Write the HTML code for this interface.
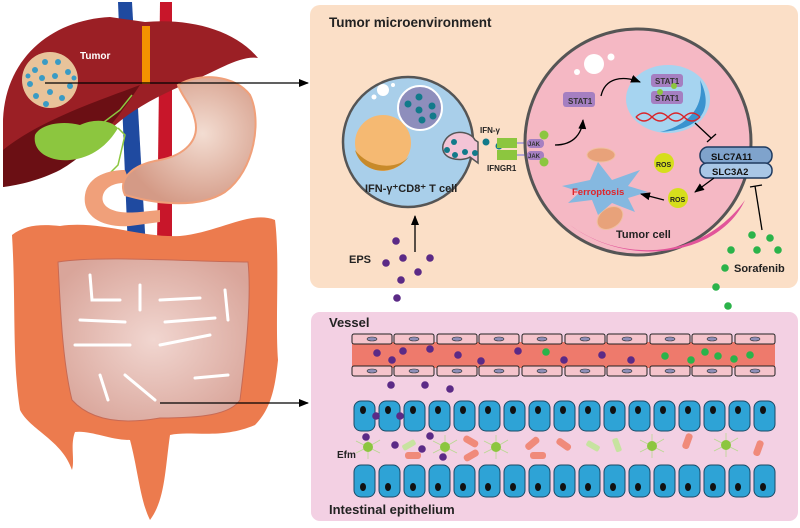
<!DOCTYPE html>
<html><head><meta charset="utf-8"><style>
html,body{margin:0;padding:0;background:#fff}
svg{display:block}
text{font-family:"Liberation Sans",Arial,sans-serif;font-weight:bold}
</style></head><body>
<svg width="800" height="528" viewBox="0 0 800 528" xmlns="http://www.w3.org/2000/svg">
<defs>
<marker id="ar" markerWidth="10" markerHeight="8" refX="9" refY="4" orient="auto" markerUnits="userSpaceOnUse"><path d="M0,0 L10,4 L0,8 Z" fill="#000"/></marker>
<radialGradient id="st" cx="0.6" cy="0.45" r="0.6"><stop offset="0" stop-color="#f3ddd2"/><stop offset="1" stop-color="#d49a86"/></radialGradient>
<radialGradient id="si" cx="0.5" cy="0.5" r="0.6"><stop offset="0" stop-color="#f1d6d0"/><stop offset="1" stop-color="#d9a59a"/></radialGradient>
</defs>
<!-- veins -->
<path d="M118,2 L132,2 L146,250 L128,250 Z" fill="#1f4aa0"/>
<path d="M160,2 L172,2 L172,245 L157,245 Z" fill="#c8162a"/>
<!-- liver -->
<path d="M3,125 C3,60 50,20 110,17 L145,22 C190,18 235,30 258,58 C240,55 215,72 190,82 C160,95 130,110 110,130 C80,160 40,180 3,187 Z" fill="#9b1f25"/>
<path d="M3,150 C40,120 100,100 140,85 C120,115 95,150 60,170 C40,180 20,185 3,187 Z" fill="#6b0f14"/>
<rect x="142" y="26" width="8" height="58" fill="#f39200"/>
<path d="M35,135 C40,125 60,120 80,125 C95,118 110,120 118,128 C108,145 92,158 70,160 C50,162 32,152 35,135 Z" fill="#8cc63f"/>
<path d="M100,125 L120,110 L132,95 M118,128 L125,135 L118,165 L108,175" stroke="#8cc63f" stroke-width="1.5" fill="none"/>
<circle cx="50" cy="80" r="28" fill="#e8c39a"/>
<g fill="#3a9bc4">
<circle cx="35" cy="70" r="3"/><circle cx="45" cy="62" r="3"/><circle cx="58" cy="62" r="3"/><circle cx="68" cy="72" r="3"/><circle cx="30" cy="84" r="3"/><circle cx="42" cy="78" r="3"/><circle cx="55" cy="76" r="3"/><circle cx="70" cy="86" r="3"/><circle cx="36" cy="96" r="3"/><circle cx="50" cy="92" r="3"/><circle cx="62" cy="98" r="3"/><circle cx="46" cy="104" r="3"/><circle cx="74" cy="78" r="2.5"/><circle cx="28" cy="76" r="2.5"/></g>
<text x="80" y="59" font-size="10" fill="#fff">Tumor</text>
<!-- stomach & duodenum -->
<path d="M125,170 C110,170 88,175 85,195 C82,215 100,228 130,226 L160,222 L160,210 L140,212 C110,215 100,205 103,195 C106,185 118,182 130,183 Z" fill="#f0a07a"/>
<path d="M178,85 C200,72 235,75 250,95 C262,120 255,170 225,192 C200,208 160,205 125,195 C118,180 130,165 160,160 C185,155 200,140 195,120 C192,105 182,97 178,85 Z" fill="url(#st)" stroke="#f0a07a" stroke-width="2"/>
<!-- colon -->
<path d="M12,235 C25,225 40,224 60,226 C100,220 140,238 180,236 C220,232 250,210 275,220 C280,260 275,320 278,360 C275,390 270,410 255,425 C220,440 190,430 170,435 C165,470 165,500 150,520 C140,500 138,470 130,440 C110,440 90,430 75,432 C70,445 75,460 72,470 C62,440 30,430 20,410 C12,360 16,300 12,235 Z" fill="#ec7b4e"/>
<!-- small intestine -->
<path d="M58,262 C100,255 200,262 248,262 C252,300 245,360 240,400 C230,415 200,418 160,418 C120,425 90,420 72,400 C62,360 60,300 58,262 Z" fill="url(#si)" stroke="#c76a55" stroke-width="1"/>
<g stroke="#fff" stroke-width="3" fill="none" stroke-linecap="round">
<path d="M90,275 L92,300 L120,300"/><path d="M160,300 L200,298"/><path d="M75,345 L130,345"/><path d="M160,345 L210,335"/><path d="M100,375 L108,400"/><path d="M125,375 L155,400"/><path d="M195,378 L228,375"/><path d="M140,285 L140,310"/><path d="M225,290 L228,320"/><path d="M165,322 L215,318"/><path d="M80,320 L125,322"/></g>
<!-- arrows -->
<line x1="45" y1="83" x2="308" y2="83" stroke="#000" stroke-width="1.3" marker-end="url(#ar)"/>
<line x1="160" y1="403" x2="308" y2="403" stroke="#000" stroke-width="1.3" marker-end="url(#ar)"/>

<!-- top panel -->
<rect x="310" y="5" width="488" height="283" rx="10" fill="#fbdfc7"/>
<text x="329" y="27" font-size="13.5" fill="#222">Tumor microenvironment</text>
<circle cx="408" cy="142" r="65" fill="#a9cfea" stroke="#555" stroke-width="2.5"/>
<circle cx="383" cy="143" r="28" fill="#f5b972"/>
<path d="M355,150 C362,175 395,178 410,155 C400,170 370,170 355,150 Z" fill="#c88a2a"/>
<circle cx="420" cy="108" r="22" fill="#8e8ebc" stroke="#fff" stroke-width="2"/>
<g fill="#127a8a"><circle cx="408" cy="104" r="3.5"/><circle cx="419" cy="97" r="3.5"/><circle cx="419" cy="110" r="3.5"/><circle cx="432" cy="106" r="3.5"/><circle cx="422" cy="120" r="3.5"/><circle cx="433" cy="116" r="3.5"/></g>
<circle cx="383" cy="90" r="6" fill="#fff"/><circle cx="374" cy="97" r="2.5" fill="#fff"/><circle cx="393" cy="85" r="2" fill="#fff"/>
<path d="M475,140 C470,130 448,128 443,145 C440,160 462,162 470,157 L478,163 L478,142 Z" fill="#f3c4d6" stroke="#555" stroke-width="1.5"/>
<g fill="#127a8a"><circle cx="454" cy="142" r="3"/><circle cx="447" cy="150" r="3"/><circle cx="455" cy="155" r="3"/><circle cx="465" cy="152" r="3"/><circle cx="475" cy="153" r="3"/><circle cx="486" cy="142" r="3.5"/><circle cx="499" cy="146" r="3.5"/></g>
<text x="365" y="192" font-size="11" fill="#222">IFN-γ⁺CD8⁺ T cell</text>
<text x="480" y="133" font-size="8" fill="#222">IFN-γ</text>
<text x="487" y="171" font-size="8" fill="#222">IFNGR1</text>
<rect x="497" y="138" width="20" height="10" fill="#8cc63f"/><rect x="497" y="150" width="20" height="10" fill="#8cc63f"/>
<line x1="517" y1="143" x2="528" y2="143" stroke="#b7a7d4" stroke-width="2"/><line x1="517" y1="155" x2="528" y2="155" stroke="#b7a7d4" stroke-width="2"/>
<circle cx="638" cy="142" r="113" fill="#f5b8c4" stroke="#555" stroke-width="3"/>
<path d="M570,225 C620,262 700,262 745,200 C720,255 630,270 570,225 Z" fill="#e2559a"/>
<ellipse cx="668" cy="99" rx="42" ry="34" fill="#a6d4f0"/>
<path d="M700,80 C715,110 700,130 660,132 C690,125 705,105 700,80 Z" fill="#3a93cf"/>
<circle cx="594" cy="64" r="10" fill="#fff"/><circle cx="611" cy="57" r="3.5" fill="#fff"/><circle cx="577" cy="72" r="3" fill="#fff"/>
<rect x="563" y="92" width="32" height="15" rx="3" fill="#a57fc1"/><text x="568" y="104" font-size="8" fill="#333">STAT1</text>
<rect x="651" y="74" width="32" height="13" rx="3" fill="#a57fc1"/><text x="655" y="84" font-size="8" fill="#333">STAT1</text>
<rect x="651" y="91" width="32" height="13" rx="3" fill="#a57fc1"/><text x="655" y="101" font-size="8" fill="#333">STAT1</text>
<circle cx="674" cy="86" r="3" fill="#8cc63f"/><circle cx="660" cy="92" r="3" fill="#8cc63f"/>
<path d="M636,117 q8,-8 16,0 t16,0 t16,0 t16,0" stroke="#d9252a" stroke-width="1.5" fill="none"/>
<path d="M636,117 q8,8 16,0 t16,0 t16,0 t16,0" stroke="#d9252a" stroke-width="1.5" fill="none"/>
<rect x="527" y="139" width="17" height="9" rx="4" fill="#a57fc1"/><text x="528" y="146" font-size="6" fill="#333">JAK</text>
<rect x="527" y="151" width="17" height="9" rx="4" fill="#a57fc1"/><text x="528" y="158" font-size="6" fill="#333">JAK</text>
<circle cx="544" cy="135" r="4.5" fill="#8cc63f"/><circle cx="544" cy="162" r="4.5" fill="#8cc63f"/>
<path d="M555,145 C575,145 582,132 583,120" stroke="#000" stroke-width="1.3" fill="none" marker-end="url(#ar)"/>
<path d="M601,96 C605,78 622,75 640,82" stroke="#000" stroke-width="1.3" fill="none" marker-end="url(#ar)"/>
<line x1="695" y1="123" x2="711" y2="138" stroke="#000" stroke-width="1.3"/><line x1="707" y1="142" x2="716" y2="134" stroke="#000" stroke-width="1.3"/>
<rect x="700" y="147" width="72" height="17" rx="8" fill="#7fa3cc" stroke="#1f3a5f" stroke-width="1.5"/>
<rect x="700" y="163" width="72" height="15" rx="7" fill="#a9c7e6" stroke="#1f3a5f" stroke-width="1.5"/>
<text x="711" y="160" font-size="9.5" fill="#111">SLC7A11</text>
<text x="712" y="175" font-size="9.5" fill="#111">SLC3A2</text>
<ellipse cx="601" cy="155" rx="14" ry="7" fill="#e8a27a" stroke="#f0c0a0"/>
<ellipse cx="610" cy="218" rx="14" ry="10" fill="#e8a27a" stroke="#f0c0a0" transform="rotate(-35 610 218)"/>
<path d="M562,186 L590,180 L598,162 L612,180 L640,170 L628,186 L648,192 L628,198 L635,212 L612,203 L598,215 L592,200 L568,203 L580,192 Z" fill="#85b8e0"/>
<text x="572" y="195" font-size="9.5" fill="#e0252a">Ferroptosis</text>
<circle cx="664" cy="163" r="10" fill="#d6de1c"/><text x="656" y="167" font-size="7" fill="#222">ROS</text>
<circle cx="678" cy="198" r="10" fill="#d6de1c"/><text x="670" y="202" font-size="7" fill="#222">ROS</text>
<line x1="714" y1="178" x2="695" y2="192" stroke="#000" stroke-width="1.3" marker-end="url(#ar)"/>
<line x1="664" y1="200" x2="641" y2="194" stroke="#000" stroke-width="1.3" marker-end="url(#ar)"/>
<text x="616" y="238" font-size="11" fill="#222">Tumor cell</text>
<line x1="762" y1="230" x2="755" y2="186" stroke="#000" stroke-width="1.3"/><line x1="750" y1="187" x2="762" y2="185" stroke="#000" stroke-width="1.3"/>
<line x1="415" y1="252" x2="415" y2="216" stroke="#000" stroke-width="1.3" marker-end="url(#ar)"/>
<text x="349" y="263" font-size="11" fill="#222">EPS</text>
<text x="734" y="272" font-size="11" fill="#222">Sorafenib</text>
<g fill="#5b2a86"><circle cx="396" cy="241" r="3.8"/><circle cx="386" cy="263" r="3.8"/><circle cx="403" cy="258" r="3.8"/><circle cx="430" cy="258" r="3.8"/><circle cx="418" cy="272" r="3.8"/><circle cx="401" cy="280" r="3.8"/><circle cx="397" cy="298" r="3.8"/><circle cx="390" cy="323" r="3.8"/></g>
<g fill="#2bb34a"><circle cx="752" cy="235" r="3.8"/><circle cx="770" cy="238" r="3.8"/><circle cx="731" cy="250" r="3.8"/><circle cx="757" cy="250" r="3.8"/><circle cx="778" cy="250" r="3.8"/><circle cx="725" cy="268" r="3.8"/><circle cx="716" cy="287" r="3.8"/><circle cx="728" cy="306" r="3.8"/><circle cx="731" cy="327" r="3.8"/></g>

<rect x="311" y="312" width="487" height="209" rx="9" fill="#f3d0e3"/>
<text x="329" y="327" font-size="13" fill="#222">Vessel</text>
<rect x="352" y="342" width="423" height="26" fill="#ee7a6c"/>
<g stroke="#222" stroke-width="1" fill="#f5c4cc">
<rect x="352" y="334" width="40" height="10" rx="2"/><rect x="394" y="334" width="40" height="10" rx="2"/><rect x="437" y="334" width="40" height="10" rx="2"/><rect x="479" y="334" width="40" height="10" rx="2"/><rect x="522" y="334" width="40" height="10" rx="2"/><rect x="565" y="334" width="40" height="10" rx="2"/><rect x="607" y="334" width="40" height="10" rx="2"/><rect x="650" y="334" width="40" height="10" rx="2"/><rect x="692" y="334" width="40" height="10" rx="2"/><rect x="735" y="334" width="40" height="10" rx="2"/>
<rect x="352" y="366" width="40" height="10" rx="2"/><rect x="394" y="366" width="40" height="10" rx="2"/><rect x="437" y="366" width="40" height="10" rx="2"/><rect x="479" y="366" width="40" height="10" rx="2"/><rect x="522" y="366" width="40" height="10" rx="2"/><rect x="565" y="366" width="40" height="10" rx="2"/><rect x="607" y="366" width="40" height="10" rx="2"/><rect x="650" y="366" width="40" height="10" rx="2"/><rect x="692" y="366" width="40" height="10" rx="2"/><rect x="735" y="366" width="40" height="10" rx="2"/>
</g>
<g fill="#8f8fb8" stroke="#333" stroke-width="0.6">
<ellipse cx="372" cy="339" rx="5" ry="2"/><ellipse cx="414" cy="339" rx="5" ry="2"/><ellipse cx="457" cy="339" rx="5" ry="2"/><ellipse cx="499" cy="339" rx="5" ry="2"/><ellipse cx="542" cy="339" rx="5" ry="2"/><ellipse cx="585" cy="339" rx="5" ry="2"/><ellipse cx="627" cy="339" rx="5" ry="2"/><ellipse cx="670" cy="339" rx="5" ry="2"/><ellipse cx="712" cy="339" rx="5" ry="2"/><ellipse cx="755" cy="339" rx="5" ry="2"/>
<ellipse cx="372" cy="371" rx="5" ry="2"/><ellipse cx="414" cy="371" rx="5" ry="2"/><ellipse cx="457" cy="371" rx="5" ry="2"/><ellipse cx="499" cy="371" rx="5" ry="2"/><ellipse cx="542" cy="371" rx="5" ry="2"/><ellipse cx="585" cy="371" rx="5" ry="2"/><ellipse cx="627" cy="371" rx="5" ry="2"/><ellipse cx="670" cy="371" rx="5" ry="2"/><ellipse cx="712" cy="371" rx="5" ry="2"/><ellipse cx="755" cy="371" rx="5" ry="2"/>
</g>
<g fill="#2ea3d6" stroke="#1a4a66" stroke-width="1">
<rect x="354" y="401" width="21" height="30" rx="7"/><rect x="379" y="401" width="21" height="30" rx="7"/><rect x="404" y="401" width="21" height="30" rx="7"/><rect x="429" y="401" width="21" height="30" rx="7"/><rect x="454" y="401" width="21" height="30" rx="7"/><rect x="479" y="401" width="21" height="30" rx="7"/><rect x="504" y="401" width="21" height="30" rx="7"/><rect x="529" y="401" width="21" height="30" rx="7"/><rect x="554" y="401" width="21" height="30" rx="7"/><rect x="579" y="401" width="21" height="30" rx="7"/><rect x="604" y="401" width="21" height="30" rx="7"/><rect x="629" y="401" width="21" height="30" rx="7"/><rect x="654" y="401" width="21" height="30" rx="7"/><rect x="679" y="401" width="21" height="30" rx="7"/><rect x="704" y="401" width="21" height="30" rx="7"/><rect x="729" y="401" width="21" height="30" rx="7"/><rect x="754" y="401" width="21" height="30" rx="7"/>
<rect x="354" y="465" width="21" height="32" rx="7"/><rect x="379" y="465" width="21" height="32" rx="7"/><rect x="404" y="465" width="21" height="32" rx="7"/><rect x="429" y="465" width="21" height="32" rx="7"/><rect x="454" y="465" width="21" height="32" rx="7"/><rect x="479" y="465" width="21" height="32" rx="7"/><rect x="504" y="465" width="21" height="32" rx="7"/><rect x="529" y="465" width="21" height="32" rx="7"/><rect x="554" y="465" width="21" height="32" rx="7"/><rect x="579" y="465" width="21" height="32" rx="7"/><rect x="604" y="465" width="21" height="32" rx="7"/><rect x="629" y="465" width="21" height="32" rx="7"/><rect x="654" y="465" width="21" height="32" rx="7"/><rect x="679" y="465" width="21" height="32" rx="7"/><rect x="704" y="465" width="21" height="32" rx="7"/><rect x="729" y="465" width="21" height="32" rx="7"/><rect x="754" y="465" width="21" height="32" rx="7"/>
</g>
<g fill="#111">
<ellipse cx="363" cy="410" rx="3" ry="4"/><ellipse cx="388" cy="410" rx="3" ry="4"/><ellipse cx="413" cy="410" rx="3" ry="4"/><ellipse cx="438" cy="410" rx="3" ry="4"/><ellipse cx="463" cy="410" rx="3" ry="4"/><ellipse cx="488" cy="410" rx="3" ry="4"/><ellipse cx="513" cy="410" rx="3" ry="4"/><ellipse cx="538" cy="410" rx="3" ry="4"/><ellipse cx="563" cy="410" rx="3" ry="4"/><ellipse cx="588" cy="410" rx="3" ry="4"/><ellipse cx="613" cy="410" rx="3" ry="4"/><ellipse cx="638" cy="410" rx="3" ry="4"/><ellipse cx="663" cy="410" rx="3" ry="4"/><ellipse cx="688" cy="410" rx="3" ry="4"/><ellipse cx="713" cy="410" rx="3" ry="4"/><ellipse cx="738" cy="410" rx="3" ry="4"/><ellipse cx="763" cy="410" rx="3" ry="4"/>
<ellipse cx="363" cy="487" rx="3" ry="4"/><ellipse cx="388" cy="487" rx="3" ry="4"/><ellipse cx="413" cy="487" rx="3" ry="4"/><ellipse cx="438" cy="487" rx="3" ry="4"/><ellipse cx="463" cy="487" rx="3" ry="4"/><ellipse cx="488" cy="487" rx="3" ry="4"/><ellipse cx="513" cy="487" rx="3" ry="4"/><ellipse cx="538" cy="487" rx="3" ry="4"/><ellipse cx="563" cy="487" rx="3" ry="4"/><ellipse cx="588" cy="487" rx="3" ry="4"/><ellipse cx="613" cy="487" rx="3" ry="4"/><ellipse cx="638" cy="487" rx="3" ry="4"/><ellipse cx="663" cy="487" rx="3" ry="4"/><ellipse cx="688" cy="487" rx="3" ry="4"/><ellipse cx="713" cy="487" rx="3" ry="4"/><ellipse cx="738" cy="487" rx="3" ry="4"/><ellipse cx="763" cy="487" rx="3" ry="4"/>
</g>
<g stroke="#b8d890" stroke-width="0.8" fill="none">
<path d="M368,447 l-12,-6 M368,447 l-12,6 M368,447 l12,-7 M368,447 l12,6 M368,447 l0,-12 M368,447 l0,12"/>
<path d="M445,447 l-12,-6 M445,447 l-12,6 M445,447 l12,-7 M445,447 l12,6 M445,447 l0,-12 M445,447 l0,12"/>
<path d="M496,447 l-12,-6 M496,447 l-12,6 M496,447 l12,-7 M496,447 l12,6 M496,447 l0,-12 M496,447 l0,12"/>
<path d="M652,446 l-12,-6 M652,446 l-12,6 M652,446 l12,-7 M652,446 l12,6 M652,446 l0,-12 M652,446 l0,12"/>
<path d="M726,445 l-12,-6 M726,445 l-12,6 M726,445 l12,-7 M726,445 l12,6 M726,445 l0,-12 M726,445 l0,12"/>
</g>
<g fill="#8cc63f"><circle cx="368" cy="447" r="5"/><circle cx="445" cy="447" r="5"/><circle cx="496" cy="447" r="5"/><circle cx="652" cy="446" r="5"/><circle cx="726" cy="445" r="5"/></g>
<g fill="#f08a7a"><rect x="405" y="452" width="16" height="7" rx="3"/><rect x="463" y="438" width="16" height="7" rx="3" transform="rotate(30 471 441)"/><rect x="463" y="452" width="16" height="7" rx="3" transform="rotate(-30 471 455)"/><rect x="524" y="440" width="16" height="7" rx="3" transform="rotate(-40 532 443)"/><rect x="530" y="452" width="16" height="7" rx="3"/><rect x="556" y="441" width="16" height="7" rx="3" transform="rotate(35 564 444)"/><rect x="679" y="438" width="16" height="7" rx="3" transform="rotate(-70 687 441)"/><rect x="750" y="445" width="16" height="7" rx="3" transform="rotate(-70 758 448)"/></g>
<g fill="#c7e3a0"><rect x="402" y="442" width="14" height="6" rx="2" transform="rotate(-30 409 445)"/><rect x="586" y="443" width="14" height="6" rx="2" transform="rotate(30 593 446)"/><rect x="610" y="442" width="14" height="6" rx="2" transform="rotate(70 617 445)"/></g>
<text x="337" y="458" font-size="10" fill="#222">Efm</text>
<text x="329" y="514" font-size="13" fill="#222">Intestinal epithelium</text>
<g fill="#5b2a86"><circle cx="377" cy="353" r="3.8"/><circle cx="392" cy="360" r="3.8"/><circle cx="403" cy="351" r="3.8"/><circle cx="430" cy="349" r="3.8"/><circle cx="458" cy="355" r="3.8"/><circle cx="481" cy="361" r="3.8"/><circle cx="518" cy="351" r="3.8"/><circle cx="564" cy="360" r="3.8"/><circle cx="602" cy="355" r="3.8"/><circle cx="631" cy="360" r="3.8"/><circle cx="391" cy="385" r="3.8"/><circle cx="425" cy="385" r="3.8"/><circle cx="450" cy="389" r="3.8"/><circle cx="376" cy="416" r="3.8"/><circle cx="400" cy="416" r="3.8"/><circle cx="366" cy="437" r="3.8"/><circle cx="395" cy="445" r="3.8"/><circle cx="422" cy="449" r="3.8"/><circle cx="430" cy="436" r="3.8"/><circle cx="443" cy="457" r="3.8"/></g>
<g fill="#2bb34a"><circle cx="546" cy="352" r="3.8"/><circle cx="665" cy="356" r="3.8"/><circle cx="691" cy="360" r="3.8"/><circle cx="705" cy="352" r="3.8"/><circle cx="718" cy="356" r="3.8"/><circle cx="734" cy="359" r="3.8"/><circle cx="750" cy="355" r="3.8"/></g>
</svg>
</body></html>
